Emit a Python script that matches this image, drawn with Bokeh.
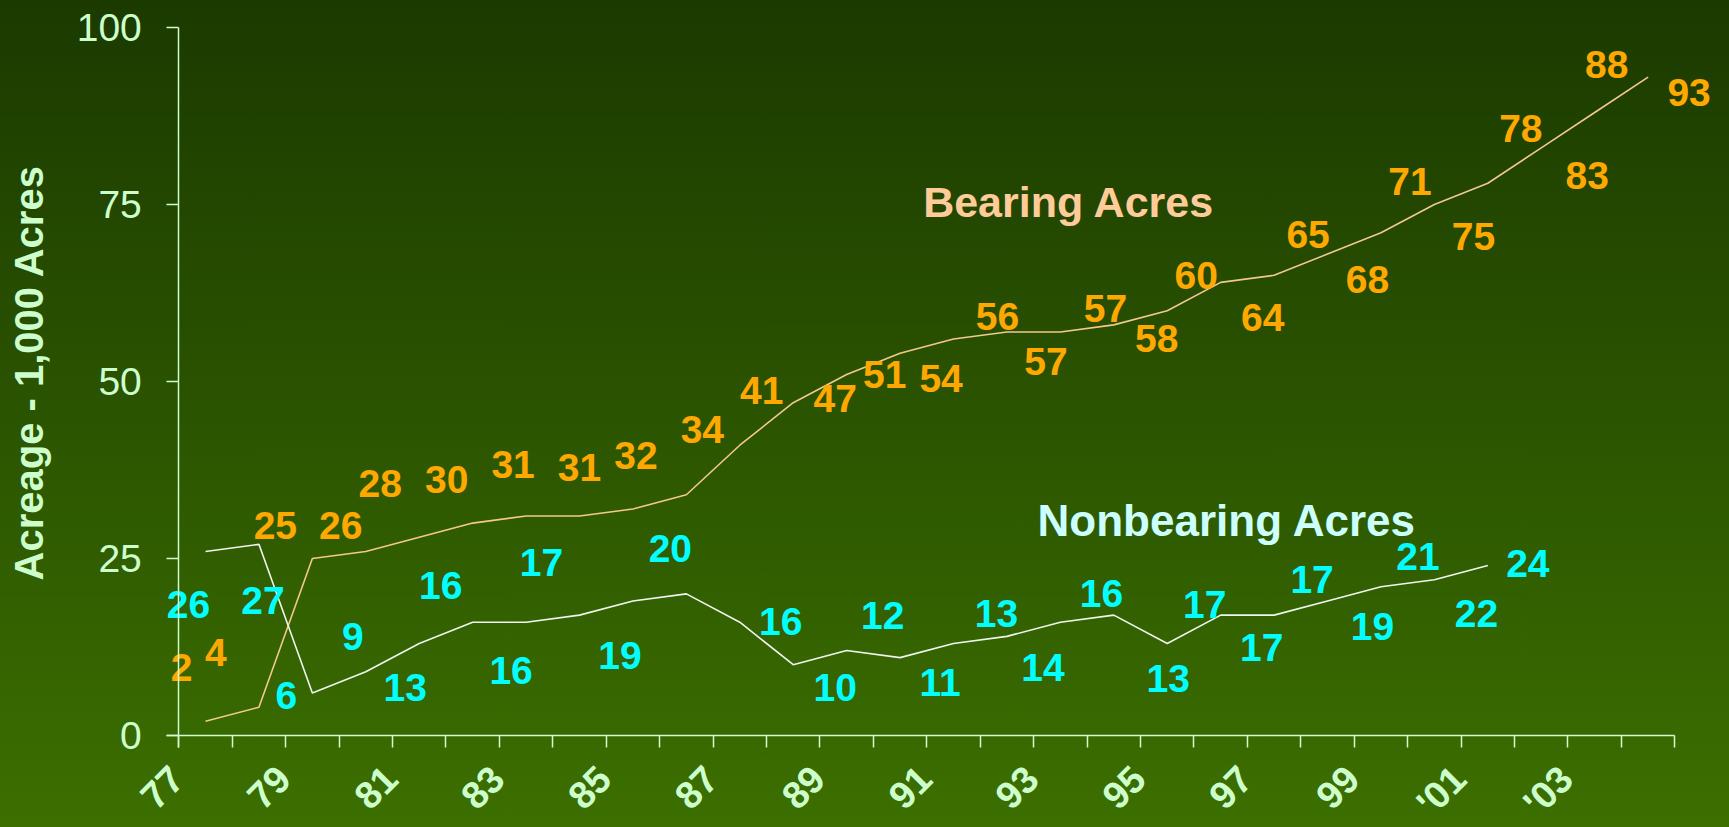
import math
from bokeh.plotting import figure
from bokeh.models import Range1d, LinearAxis, FixedTicker, Label
from bokeh.core.properties import value
from bokeh.embed import file_html
from bokeh.resources import INLINE

# ---------------- data ----------------
years = list(range(1977, 2005))
bearing = [2, 4, 25, 26, 28, 30, 31, 31, 32, 34, 41, 47, 51, 54, 56, 57, 57, 58,
           60, 64, 65, 68, 71, 75, 78, 83, 88, 93]
nonbearing = [26, 27, 6, 9, 13, 16, 16, 17, 19, 20, 16, 10, 12, 11, 13, 14, 16,
              17, 13, 17, 17, 19, 21, 22, 24]
tick_labels = ["77", "79", "81", "83", "85", "87", "89", "91", "93", "95", "97",
               "99", "'01", "'03"]
y_ticks = [0, 25, 50, 75, 100]
series_titles = ["Bearing Acres", "Nonbearing Acres"]
y_title = "Acreage - 1,000 Acres"

# ---------------- label placement (screen px offsets from each point) ----------------
bearing_dx = [-24, -43, -37, -25, -39, -26, -13, 0, 3, 16, 22, 42, 38, 41, 44, 39,
              45, 43, 29, 42, 34, 40, 29, 39, 33, 46, 12, 41]
bearing_dy = [-54, -55, -33, -26, -54, -44, -52, -49, -53, -65, -55, -4, 0, 25, -23,
              30, -23, 14, -35, 35, -41, 25, -51, 32, -55, 28, -48, 15]
nonbearing_dx = [-17, 4, -26, -13, -14, -32, -15, -38, -13, -16, 41, 42, 36, 40, 43,
                 36, 41, 91, 1, 41, 38, 45, 37, 42, 40]
nonbearing_dy = [53, 56, 2, -35, 44, -37, 48, -53, 55, -45, -1, 23, -35, 25, -30, 31,
                 -29, -11, 35, 32, -36, 26, -30, 34, -2]

# ---------------- styles ----------------
FONT = "Liberation Sans"
PALE_GREEN = "#CCFFCC"
ORANGE = "#FFA800"
CYAN = "#00FFFF"
BEARING_LINE = "#F2C890"
NONBEARING_LINE = "#EEF6EE"

W, H = 1729, 827
CAT_PX = 53.43      # width of one year slot
X0_PX = 205.0       # canvas x of the first year's centre
Y0_PX = 735.0       # canvas y of value 0
PX_PER_UNIT = 7.08

x_start = -X0_PX / CAT_PX
x_end = (W - X0_PX) / CAT_PX
y_end = Y0_PX / PX_PER_UNIT
y_start = -(H - Y0_PX) / PX_PER_UNIT

p = figure(width=W, height=H,
           x_range=Range1d(x_start, x_end), y_range=Range1d(y_start, y_end),
           x_axis_type=None, y_axis_type=None,
           output_backend="svg", toolbar_location=None,
           min_border_left=0, min_border_right=0, min_border_top=0, min_border_bottom=0)
p.title.text = ""
p.outline_line_color = None
p.background_fill_color = None
p.border_fill_color = None
p.styles = {"background": "linear-gradient(to bottom, #1b3a00 0%, #2b5400 50%, #3c6f00 100%)"}

n_b = len(bearing)
n_n = len(nonbearing)
xb = list(range(n_b))
xn = list(range(n_n))

# ---------------- axes ----------------
yaxis = LinearAxis(fixed_location=-0.5, ticker=FixedTicker(ticks=y_ticks),
                   bounds=(-12 / PX_PER_UNIT, 100),
                   axis_line_color=PALE_GREEN, axis_line_width=1.5,
                   major_tick_line_color=PALE_GREEN, major_tick_line_width=1.5,
                   major_tick_out=12, major_tick_in=0,
                   minor_tick_line_color=None,
                   major_label_standoff=25,
                   major_label_text_font=FONT, major_label_text_font_size="39px",
                   major_label_text_color=PALE_GREEN)
p.add_layout(yaxis, "left")

boundaries = [i - 0.5 for i in range(len(years) + 1)]
tick_axis = LinearAxis(fixed_location=0, ticker=FixedTicker(ticks=boundaries),
                       bounds=(-0.5 - 12 / CAT_PX, len(years) - 0.5),
                       axis_line_color=PALE_GREEN, axis_line_width=1.5,
                       major_tick_line_color=PALE_GREEN, major_tick_line_width=1.5,
                       major_tick_out=12, major_tick_in=0,
                       minor_tick_line_color=None,
                       major_label_text_color=None)
p.add_layout(tick_axis, "below")

label_ticks = [round(2 * k - 0.5 - 0.03, 3) for k in range(len(tick_labels))]
label_axis = LinearAxis(fixed_location=0, ticker=FixedTicker(ticks=label_ticks),
                        major_label_overrides=dict(zip(label_ticks, tick_labels)),
                        axis_line_color=None, major_tick_line_color=None,
                        minor_tick_line_color=None,
                        major_tick_out=12, major_tick_in=0,
                        major_label_standoff=25,
                        major_label_orientation=math.pi / 4,
                        major_label_text_font=FONT, major_label_text_font_size="38px",
                        major_label_text_font_style="bold",
                        major_label_text_color=PALE_GREEN)
p.add_layout(label_axis, "below")

# ---------------- lines ----------------
p.line(xb, bearing, line_color=BEARING_LINE, line_width=1.6)
p.line(xn, nonbearing, line_color=NONBEARING_LINE, line_width=1.6)

# ---------------- data labels ----------------
p.text(x=xb, y=bearing, text=[str(v) for v in bearing],
       x_offset=bearing_dx, y_offset=bearing_dy,
       text_font=value(FONT), text_font_style="bold", text_font_size="39px",
       text_color=ORANGE, text_align="center", text_baseline="middle")
p.text(x=xn, y=nonbearing, text=[str(v) for v in nonbearing],
       x_offset=nonbearing_dx, y_offset=nonbearing_dy,
       text_font=value(FONT), text_font_style="bold", text_font_size="39px",
       text_color=CYAN, text_align="center", text_baseline="middle")

# ---------------- series titles & y title ----------------
p.add_layout(Label(x=16.16, y=75.4, text=series_titles[0], text_font=FONT,
                   text_font_style="bold", text_font_size="43px", text_color="#FFCC99",
                   text_align="center", text_baseline="middle"))
p.add_layout(Label(x=19.12, y=30.3, text=series_titles[1], text_font=FONT,
                   text_font_style="bold", text_font_size="44px", text_color="#CCFFFF",
                   text_align="center", text_baseline="middle"))
p.add_layout(Label(x=-3.30, y=51.27, angle=math.pi / 2, text=y_title, text_font=FONT,
                   text_font_style="bold", text_font_size="40px", text_color=PALE_GREEN,
                   text_align="center", text_baseline="middle"))

open("out.html", "w").write(file_html(p, INLINE))
